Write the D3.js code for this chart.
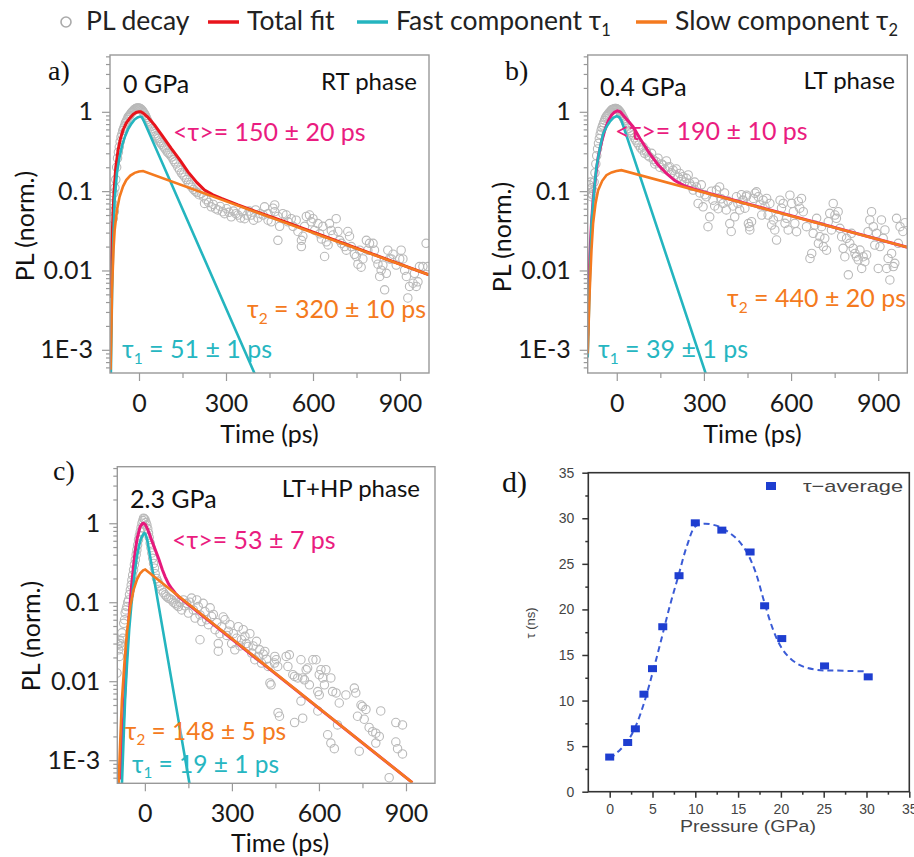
<!DOCTYPE html>
<html><head><meta charset="utf-8">
<script src="https://cdn.jsdelivr.net/npm/d3@7"></script>
<style>
body{margin:0;background:#fff;}
svg{display:block;}
</style></head><body>
<svg id="chart" width="914" height="857"></svg>
<script>
// ---------------- DATA ----------------
const legendLabels = ["PL decay", "Total fit", "Fast component τ", "Slow component τ"];
const legendSubs = ["", "", "1", "2"];
const timeTicks = [0, 300, 600, 900];
const timeMinorTicks = [150, 450, 750];
const plTicks = [1, 0.1, 0.01, 0.001];
const plTickLabels = ["1", "0.1", "0.01", "1E-3"];

// Panel a (0 GPa, RT phase)
const aDecay = [[-95,0.085],[-93,0.06],[-91,0.07],[-89,0.045],[-87,0.095],[-85,0.055],[-83,0.11],[-80,0.14],[-77,0.2],[-74,0.26],[-71,0.31],[-68,0.36],[-65,0.42],[-62,0.48],[-59,0.52],[-56,0.58],[-53,0.62],[-50,0.66],[-47,0.72],[-44,0.76],[-41,0.8],[-38,0.85],[-35,0.88],[-32,0.9],[-29,0.94],[-26,0.98],[-23,1.0],[-20,1.03],[-17,1.06],[-14,1.08],[-11,1.1],[-8,1.11],[-5,1.12],[-2,1.12],[1,1.11],[4,1.1],[7,1.08],[10,1.05],[13,1.02],[16,0.98],[19,0.94],[22,0.9],[25,0.85],[28,0.8],[31,0.76],[34,0.72],[38,0.68],[42,0.65],[46,0.61],[50,0.57],[54,0.53],[58,0.5],[62,0.48],[66,0.46],[70,0.43],[74,0.41],[78,0.39],[83,0.37],[88,0.35],[93,0.33],[98,0.31],[103,0.3],[108,0.285],[113,0.27],[118,0.25],[123,0.234],[128,0.22],[134,0.2],[140,0.185],[146,0.17],[152,0.16],[158,0.15],[164,0.14],[170,0.128],[176,0.12],[182,0.112],[188,0.105],[194,0.1],[200,0.096],[207,0.09],[215,0.094],[222,0.085],[226,0.07],[232,0.078],[240,0.072],[249,0.0635],[256,0.068],[264,0.06],[272,0.058],[280,0.064],[288,0.055],[295,0.052],[302,0.06],[310,0.054],[318,0.0475],[326,0.056],[334,0.052],[341,0.05],[350,0.046],[357,0.055],[364,0.045],[372,0.05],[380,0.056],[387,0.05],[395,0.043],[402,0.058],[410,0.046],[418,0.052],[433,0.0635],[445,0.052],[456,0.041],[468,0.067],
[428,0.050],[445,0.043],[462,0.061],[468,0.055],[479,0.048],[485,0.036],[479,0.024],[496,0.052],[508,0.050],[514,0.041],[525,0.045],[531,0.036],[542,0.043],[548,0.031],[560,0.024],[560,0.020],[565,0.027],[571,0.036],[577,0.048],[588,0.050],[594,0.041],[600,0.045],[606,0.032],[617,0.039],[623,0.029],[629,0.025],[634,0.036],[640,0.015],[646,0.023],[652,0.021],[657,0.039],[663,0.032],[669,0.028],[680,0.045],[686,0.031],[692,0.024],[698,0.022],[709,0.020],[715,0.018],[720,0.031],[726,0.027],[732,0.020],[743,0.016],[749,0.015],[755,0.012],[761,0.018],[766,0.011],[772,0.014],[784,0.024],[789,0.018],[795,0.022],[807,0.022],[812,0.018],[818,0.014],[824,0.012],[830,0.0084],[835,0.0101],[841,0.0117],[847,0.0057],[853,0.0092],[858,0.018],[864,0.014],[870,0.014],[876,0.016],[887,0.0117],[899,0.014],[904,0.018],[910,0.014],[916,0.0101],[922,0.0084],[927,0.0045],[933,0.0063],[945,0.0069],[950,0.0092],[956,0.0063],[962,0.0072],[967,0.0112],[979,0.0112],[990,0.022],[996,0.0112]];
const aTotalFit = [[-100,0.0045],[-97,0.0075],[-93,0.024],[-89,0.06],[-86,0.10],[-80,0.2],[-72,0.33],[-64,0.46],[-55,0.59],[-44,0.72],[-32,0.83],[-20,0.93],[-10,0.98],[0,1.0],[6,1.0],[15,0.96],[30,0.86],[54,0.68],[80,0.5],[111,0.345],[140,0.25],[169,0.175],[200,0.128],[226,0.103],[255,0.09],[284,0.081],[341,0.067],[399,0.056],[500,0.0415],[1000,0.0088]];
const aFast = [[-97,0.0005],[-93,0.005],[-88,0.03],[-84,0.077],[-76,0.17],[-67,0.27],[-58,0.38],[-49,0.48],[-38,0.6],[-26,0.71],[-15,0.8],[-5,0.85],[3,0.87],[10,0.85],[18,0.75],[401,0.00048]];
const aSlow = [[-98,0.00056],[-95,0.002],[-93,0.0057],[-88,0.018],[-84,0.032],[-76,0.058],[-67,0.085],[-55,0.115],[-44,0.138],[-30,0.157],[-15,0.17],[0,0.177],[14,0.179],[1000,0.0088]];

// Panel b (0.4 GPa, LT phase)
const bDecay = [[-95,0.12],[-92,0.095],[-90,0.13],[-88,0.085],[-86,0.11],[-84,0.09],[-81,0.1],[-78,0.13],[-75,0.17],[-72,0.22],[-69,0.28],[-66,0.34],[-63,0.4],[-60,0.46],[-57,0.52],[-54,0.58],[-51,0.63],[-48,0.68],[-45,0.73],[-42,0.78],[-39,0.83],[-36,0.87],[-33,0.9],[-30,0.93],[-27,0.96],[-24,0.99],[-21,1.02],[-18,1.05],[-15,1.07],[-12,1.08],[-9,1.09],[-6,1.1],[-3,1.1],[0,1.09],[3,1.07],[6,1.05],[9,1.02],[12,0.99],[15,0.95],[18,0.9],[21,0.86],[24,0.82],[27,0.78],[30,0.74],[34,0.7],[38,0.66],[42,0.62],[46,0.58],[50,0.55],[55,0.51],[60,0.47],[65,0.44],[70,0.41],[76,0.38],[82,0.35],[88,0.33],[91,0.36],[96,0.3],[102,0.32],[108,0.28],[113,0.27],[120,0.3],[126,0.25],[131,0.22],[136,0.234],[142,0.26],[148,0.2],[154,0.22],[159,0.213],[165,0.19],[171,0.24],[177,0.2],[182,0.203],[188,0.17],[194,0.184],[200,0.16],[205,0.19],[211,0.15],[217,0.167],[222,0.14],[228,0.152],[234,0.13],[240,0.145],[246,0.16],[251,0.125],[257,0.115],[263,0.103],[268,0.13],[274,0.113],[280,0.07],[286,0.095],[291,0.12],[297,0.0635],[303,0.09],[308,0.085],[314,0.0356],[320,0.0475],[326,0.1],[331,0.077],[337,0.065],[343,0.103],[349,0.06],[354,0.113],[360,0.08],[366,0.07],[371,0.095],[377,0.058],[383,0.075],[389,0.039],[394,0.031],[400,0.065],[406,0.0475],[412,0.085],[417,0.07],[423,0.058],[429,0.09],[434,0.077],[446,0.085],[457,0.0356],
[435,0.077],[441,0.061],[447,0.089],[453,0.039],[458,0.0324],[464,0.0412],[470,0.081],[476,0.094],[481,0.098],[487,0.085],[493,0.067],[499,0.050],[504,0.077],[510,0.064],[516,0.081],[521,0.050],[527,0.070],[533,0.0374],[539,0.0433],[544,0.0324],[550,0.0242],[556,0.0476],[562,0.077],[567,0.061],[573,0.070],[579,0.0393],[585,0.0454],[590,0.0324],[596,0.089],[602,0.070],[608,0.055],[613,0.0393],[619,0.0308],[625,0.074],[630,0.061],[636,0.081],[642,0.055],[653,0.0356],[665,0.0142],[671,0.0164],[676,0.0294],[682,0.0374],[688,0.0454],[694,0.022],[699,0.0267],[705,0.0356],[711,0.020],[716,0.0254],[722,0.018],[728,0.0412],[733,0.0525],[739,0.0324],[745,0.070],[751,0.050],[756,0.0454],[762,0.055],[768,0.0340],[774,0.0267],[779,0.019],[785,0.0149],[791,0.0254],[797,0.0088],[802,0.022],[808,0.0294],[814,0.019],[820,0.0164],[825,0.0149],[831,0.0136],[837,0.0181],[843,0.0106],[848,0.0149],[854,0.0129],[860,0.0157],[865,0.0308],[871,0.0433],[877,0.055],[883,0.0356],[888,0.0209],[894,0.0294],[900,0.0106],[906,0.020],[911,0.0433],[917,0.0254],[923,0.0324],[929,0.0106],[934,0.0142],[940,0.0076],[946,0.0164],[952,0.0112],[957,0.0123],[963,0.0454],[969,0.022],[975,0.0356],[985,0.031],[992,0.04]];
const bTotalFit = [[-100,0.0015],[-98.7,0.0024],[-93,0.015],[-87,0.04],[-81.5,0.077],[-72,0.16],[-64,0.27],[-52,0.42],[-41,0.59],[-30,0.76],[-18,0.91],[-8,0.99],[2,1.03],[12,1.0],[25,0.88],[40,0.76],[56,0.65],[80,0.46],[113,0.30],[140,0.22],[171,0.167],[200,0.136],[228,0.119],[260,0.108],[300,0.0975],[1000,0.0196]];
const bFast = [[-100,0.0008],[-95,0.004],[-87,0.039],[-78,0.1],[-70,0.2],[-58,0.35],[-47,0.53],[-35,0.65],[-24,0.75],[-12,0.84],[-1,0.88],[8,0.86],[16,0.78],[308,0.00048]];
const bSlow = [[-100,0.0009],[-97,0.002],[-93,0.0057],[-87,0.018],[-81.5,0.039],[-73,0.07],[-64,0.103],[-50,0.135],[-35.6,0.159],[-18,0.172],[-1,0.179],[16,0.184],[1000,0.0196]];

// Panel c (2.3 GPa, LT+HP phase)
const cDecay = [[-96,0.0127],[-93,0.029],[-90,0.025],[-88,0.0206],[-86,0.033],[-85,0.03],[-82,0.028],[-79,0.041],[-76,0.035],[-73,0.054],[-70,0.06],[-68,0.073],[-65,0.08],[-62,0.088],[-59,0.1],[-56,0.107],[-53,0.125],[-50,0.143],[-47,0.165],[-44.7,0.19],[-42,0.22],[-39,0.257],[-36,0.3],[-33,0.343],[-30,0.4],[-27.5,0.46],[-25,0.53],[-21.8,0.62],[-19,0.7],[-16,0.78],[-13,0.88],[-10,1.0],[-7,1.08],[-4.6,1.16],[-2,1.14],[1,1.1],[4,1.02],[7,0.95],[10,0.85],[12.6,0.75],[15,0.66],[18.3,0.56],[21,0.49],[24,0.42],[27,0.36],[30,0.31],[33,0.27],[35.5,0.23],[40,0.2],[44,0.185],[47,0.174],[52,0.16],[58,0.143],[64,0.132],[70,0.124],[75,0.118],[81,0.113],[87,0.11],[93,0.107],[98,0.1],[104,0.097],[110,0.092],[116,0.088],[121,0.1],[127,0.08],[133,0.107],[138,0.09],[144,0.097],[150,0.073],[155,0.1],[161,0.113],[167,0.08],[173,0.063],[179,0.107],[184,0.088],[190,0.069],[190,0.0335],[196,0.057],[201,0.097],[207,0.076],[213,0.06],[219,0.052],[225,0.085],[230,0.066],[236,0.07],[242,0.045],[248,0.055],[253,0.03],[253,0.024],[259,0.04],[265,0.049],[270,0.065],[276,0.06],[282,0.038],[287.5,0.043],[293,0.052],[299,0.03],[305,0.04],[310,0.025],[316,0.035],[322,0.049],[328,0.028],[333,0.0335],[339,0.045],[345,0.037],[350,0.03],[356,0.0276],[362,0.04],[368,0.0227],[373,0.028],[379,0.0187],[385,0.032],[390.6,0.0206],[396,0.025],[402,0.017],[408,0.022],[413.5,0.0238],[419,0.019],[425,0.0154],[431,0.0095],[448,0.0206],[459,0.004],
[435,0.009],[447,0.017],[453,0.0187],[458,0.0154],[487,0.0206],[493,0.0154],[498,0.0216],[510,0.0121],[516,0.0115],[527,0.011],[538,0.0187],[544,0.011],[550,0.0104],[561,0.0147],[556,0.014],[567,0.009],[579,0.0187],[590,0.0187],[596,0.0074],[601,0.0121],[607,0.014],[613,0.011],[619,0.009],[624,0.014],[641,0.011],[647,0.0074],[596,0.0042],[601,0.0067],[544,0.0034],[538,0.0056],[516,0.003],[464,0.0036],[659,0.0071],[664,0.0028],[630,0.0021],[641,0.00165],[653,0.0014],[670,0.0053],[693,0.0067],[722,0.0082],[727,0.0071],[745,0.005],[750,0.0048],[762,0.0044],[733,0.0036],[756,0.0033],[773,0.0026],[785,0.0023],[796,0.0022],[808,0.002],[796,0.00165],[813,0.0042],[865,0.003],[888,0.0028],[865,0.0017],[871,0.0014],[888,0.0012],[739,0.0013],[842,0.0006]];
const cTotalFit = [[-85,0.00057],[-79,0.0015],[-73,0.0036],[-67,0.01],[-62,0.025],[-54,0.07],[-45,0.174],[-36,0.37],[-27.5,0.62],[-16,0.91],[-8,0.99],[-4.6,1.0],[2,0.96],[10,0.83],[24,0.6],[35,0.47],[47,0.36],[60,0.26],[70,0.21],[82,0.17],[93,0.148],[105,0.13],[116,0.118],[922,0.00052]];
const cFast = [[-79,0.0005],[-73,0.002],[-68,0.006],[-62,0.0154],[-54,0.045],[-45,0.107],[-36,0.22],[-27.5,0.38],[-20,0.52],[-12.6,0.65],[-6,0.72],[-2.3,0.75],[2,0.73],[8,0.62],[154,0.0005]];
const cSlow = [[-90.5,0.00049],[-85,0.0017],[-79,0.0058],[-70,0.018],[-62,0.041],[-50,0.09],[-39,0.143],[-27,0.195],[-16,0.233],[-6,0.254],[1.2,0.26],[922,0.00052]];

// Panel d (average lifetime vs pressure)
const pressureGPa = [0, 2.1, 3, 4, 5, 6.2, 8.1, 10, 13.1, 16.4, 18.1, 20.1, 25.1, 30.2];
const tauAverageNs = [3.8, 5.4, 6.9, 10.7, 13.5, 18.1, 23.7, 29.5, 28.7, 26.3, 20.4, 16.8, 13.8, 12.6];
const guidePressure = [0, 1, 2, 3, 4, 5, 6, 7, 8, 9, 10, 11, 12, 13, 14, 15, 16, 17, 18, 19, 20, 21, 22, 23, 24, 25, 26, 28, 30];
const guideTau = [3.6, 4.4, 5.4, 7.1, 9.7, 13, 16.6, 20.3, 23.6, 26.9, 29.1, 29.4, 29.3, 29.0, 28.4, 27.6, 26.3, 24.2, 21, 18, 15.9, 14.7, 14, 13.6, 13.4, 13.3, 13.3, 13.25, 13.2];
const dTicks = [0, 5, 10, 15, 20, 25, 30, 35];
const dMinorTicks = [2.5, 7.5, 12.5, 17.5, 22.5, 27.5, 32.5];

// ---------------- DRAWING ----------------
const svg = d3.select("#chart");
const SANS = "Lato, 'Noto Sans', 'DejaVu Sans', sans-serif";
const COL = {red:"#e8141c", pink:"#e6197c", cyan:"#24b5bf", orange:"#f47a1f",
             pinkText:"#ea1c80", orangeText:"#f47a20", cyanText:"#26b6c1"};

function txt(g, x, y, s, opt={}) {
  const size = opt.size || 25;
  const t = g.append("text").attr("x", x).attr("y", y)
    .attr("font-family", opt.family || SANS)
    .attr("font-size", size)
    .attr("fill", opt.fill || "#111")
    .attr("text-anchor", opt.anchor || "start");
  if (opt.sub !== undefined) {
    t.append("tspan").text(opt.pre);
    t.append("tspan").attr("font-size", size * 0.62).attr("dy", size * 0.22).text(opt.sub);
    if (opt.post) t.append("tspan").attr("dy", -size * 0.22).text(opt.post);
  } else t.text(s);
  if (opt.len) t.attr("textLength", opt.len).attr("lengthAdjust", "spacingAndGlyphs");
  return t;
}

function decayPanel(o) {
  const g = svg.append("g");
  const x = d3.scaleLinear().domain(o.xDomain).range([o.left, o.right]);
  const y = d3.scaleLog().domain([5.1e-4, 5.2]).range([o.bottom, o.top]);
  const clipId = "clip" + o.id;
  svg.append("clipPath").attr("id", clipId).append("rect")
    .attr("x", o.left).attr("y", o.top).attr("width", o.right - o.left).attr("height", o.bottom - o.top);
  const plot = g.append("g").attr("clip-path", `url(#${clipId})`);
  plot.selectAll("circle").data(o.decay).join("circle")
    .attr("cx", d => x(d[0])).attr("cy", d => y(d[1])).attr("r", 4.2)
    .attr("fill", "none").attr("stroke", "#b9b9b9").attr("stroke-width", 1.1);
  const line = d3.line().x(d => x(d[0])).y(d => y(d[1]));
  plot.append("path").attr("d", line(o.total)).attr("fill", "none").attr("stroke", o.totalColor).attr("stroke-width", 3);
  plot.append("path").attr("d", line(o.fast)).attr("fill", "none").attr("stroke", COL.cyan).attr("stroke-width", 2.6);
  plot.append("path").attr("d", line(o.slow)).attr("fill", "none").attr("stroke", COL.orange).attr("stroke-width", 2.6);

  // frame
  g.append("rect").attr("x", o.left).attr("y", o.top).attr("width", o.right - o.left).attr("height", o.bottom - o.top)
    .attr("fill", "none").attr("stroke", "#999").attr("stroke-width", 1.4);

  const minor = y.ticks(40).filter(v => !plTicks.some(p => Math.abs(p - v) / p < 1e-6));
  const yMinor = g.append("g").attr("transform", `translate(${o.left},0)`)
    .call(d3.axisLeft(y).tickValues(minor).tickSize(4).tickFormat(""));
  const yMajor = g.append("g").attr("transform", `translate(${o.left},0)`)
    .call(d3.axisLeft(y).tickValues(plTicks).tickSize(8).tickPadding(9).tickFormat((d, i) => plTickLabels[i]));
  const xMinor = g.append("g").attr("transform", `translate(0,${o.bottom})`)
    .call(d3.axisBottom(x).tickValues(timeMinorTicks).tickSize(5).tickFormat(""));
  const xMajor = g.append("g").attr("transform", `translate(0,${o.bottom})`)
    .call(d3.axisBottom(x).tickValues(timeTicks).tickSize(8).tickPadding(13).tickFormat(d3.format("d")));
  [yMinor, yMajor, xMinor, xMajor].forEach(a => {
    a.select(".domain").remove();
    a.selectAll("line").attr("stroke", "#999").attr("stroke-width", 1.2);
    a.selectAll("text").attr("font-family", SANS).attr("font-size", 25).attr("fill", "#1a1a1a");
  });

  txt(g, (o.left + o.right) / 2 + o.xtDx, o.xtY, "Time (ps)", {anchor: "middle"});
  txt(g, 0, 0, "PL (norm.)", {anchor: "middle"})
    .attr("transform", `translate(${o.ytX},${o.ytY}) rotate(-90)`);

  txt(g, o.letter[1], o.letter[2], o.letter[0], {family: "'Liberation Serif','Times New Roman',serif", size: 28});
  txt(g, o.gpa[1], o.gpa[2], o.gpa[0], {size: 25});
  txt(g, o.phase[1], o.phase[2], o.phase[0], {size: 24, anchor: "end"});
  txt(g, o.avg[1], o.avg[2], o.avg[0], {size: 25, fill: COL.pinkText});
  txt(g, o.t2[1], o.t2[2], null, {size: o.t2[3] || 25, fill: COL.orangeText, pre: "τ", sub: "2", post: o.t2[0]});
  txt(g, o.t1[1], o.t1[2], null, {size: o.t1[3] || 25, fill: COL.cyanText, pre: "τ", sub: "1", post: o.t1[0]});
}

decayPanel({id: "a", left: 110, right: 429, top: 55, bottom: 373, xDomain: [-100, 1000],
  decay: aDecay, total: aTotalFit, fast: aFast, slow: aSlow, totalColor: COL.red,
  xtDx: 0, xtY: 443, ytX: 34, ytY: 226,
  letter: ["a)", 48, 80], gpa: ["0 GPa", 123, 93], phase: ["RT phase", 417, 90],
  avg: ["<τ>= 150 ± 20 ps", 173, 141], t2: [" = 320 ± 10 ps", 247, 318], t1: [" = 51 ± 1 ps", 122, 358]});

decayPanel({id: "b", left: 587.7, right: 907.3, top: 55, bottom: 373, xDomain: [-100, 1000],
  decay: bDecay, total: bTotalFit, fast: bFast, slow: bSlow, totalColor: COL.pink,
  xtDx: 5, xtY: 443, ytX: 511, ytY: 237,
  letter: ["b)", 505, 80], gpa: ["0.4 GPa", 600, 96], phase: ["LT phase", 895, 89],
  avg: ["<τ>= 190 ± 10 ps", 615, 140], t2: [" = 440 ± 20 ps", 727, 307], t1: [" = 39 ± 1 ps", 598, 358]});

decayPanel({id: "c", left: 117.3, right: 435, top: 466.7, bottom: 783.3, xDomain: [-95, 1000],
  decay: cDecay, total: cTotalFit, fast: cFast, slow: cSlow, totalColor: COL.pink,
  xtDx: 4, xtY: 852, ytX: 40, ytY: 636,
  letter: ["c)", 53, 480], gpa: ["2.3 GPa", 130, 508], phase: ["LT+HP phase", 420, 497],
  avg: ["<τ>= 53 ± 7 ps", 172, 549], t2: [" = 148 ± 5 ps", 125, 740, 24.5], t1: [" = 19 ± 1 ps", 132, 773, 24.5]});

// ---------- Legend ----------
(function legend() {
  const g = svg.append("g");
  const y0 = 22, base = 30, fs = 26.5;
  g.append("circle").attr("cx", 66).attr("cy", y0).attr("r", 5).attr("fill", "none").attr("stroke", "#aaa").attr("stroke-width", 1.6);
  txt(g, 86, base, legendLabels[0], {size: fs, fill: "#222"});
  const items = [[208, 247, COL.red], [357, 396, COL.cyan], [636, 675, COL.orange]];
  items.forEach((it, i) => {
    g.append("line").attr("x1", it[0]).attr("x2", it[0] + 31).attr("y1", y0).attr("y2", y0).attr("stroke", it[2]).attr("stroke-width", 3.5);
    if (legendSubs[i + 1]) txt(g, it[1], base, null, {size: fs, fill: "#222", pre: legendLabels[i + 1], sub: legendSubs[i + 1], post: ""});
    else txt(g, it[1], base, legendLabels[i + 1], {size: fs, fill: "#222"});
  });
})();

// ---------- Panel d ----------
(function panelD() {
  const g = svg.append("g");
  const L = 588.3, R = 909.3, T = 472.7, B = 791.7;
  const x = d3.scaleLinear().domain([-2.5, 35]).range([L, R]);
  const y = d3.scaleLinear().domain([0, 35]).range([B, T]);
  const ARIAL = "'Liberation Sans', Arial, sans-serif";
  txt(g, 502, 492, "d)", {family: "'Liberation Serif','Times New Roman',serif", size: 30});

  const line = d3.line().x((d, i) => x(guidePressure[i])).y(d => y(d)).curve(d3.curveCatmullRom.alpha(0.5));
  g.append("path").attr("d", line(guideTau)).attr("fill", "none").attr("stroke", "#3a5bd6")
    .attr("stroke-width", 2).attr("stroke-dasharray", "6,4");
  g.selectAll("rect.pt").data(pressureGPa).join("rect").attr("class", "pt")
    .attr("x", d => x(d) - 4.5).attr("y", (d, i) => y(tauAverageNs[i]) - 3.5)
    .attr("width", 9).attr("height", 7).attr("fill", "#1e3ed0");

  g.append("rect").attr("x", L).attr("y", T).attr("width", R - L).attr("height", B - T)
    .attr("fill", "none").attr("stroke", "#333").attr("stroke-width", 1.6);
  const axes = [
    g.append("g").attr("transform", `translate(${L},0)`).call(d3.axisLeft(y).tickValues(dMinorTicks).tickSize(3).tickFormat("")),
    g.append("g").attr("transform", `translate(${L},0)`).call(d3.axisLeft(y).tickValues(dTicks).tickSize(6).tickPadding(8).tickFormat(d3.format("d"))),
    g.append("g").attr("transform", `translate(0,${B})`).call(d3.axisBottom(x).tickValues(dMinorTicks).tickSize(3).tickFormat("")),
    g.append("g").attr("transform", `translate(0,${B})`).call(d3.axisBottom(x).tickValues(dTicks).tickSize(6).tickPadding(6).tickFormat(d3.format("d")))
  ];
  axes.forEach(a => {
    a.select(".domain").remove();
    a.selectAll("line").attr("stroke", "#333").attr("stroke-width", 1.5);
    a.selectAll("text").attr("font-family", ARIAL).attr("font-size", 14).attr("fill", "#444");
  });
  txt(g, 748, 832, "Pressure (GPa)", {family: ARIAL, size: 17, fill: "#444", anchor: "middle", len: 136});
  txt(g, 0, 0, "τ (ns)", {family: ARIAL, size: 13, fill: "#444", anchor: "middle"})
    .attr("transform", "translate(535,623) rotate(-90)");
  g.append("rect").attr("x", 766).attr("y", 482).attr("width", 10).attr("height", 8).attr("fill", "#1e3ed0");
  txt(g, 803, 492, "τ−average", {family: ARIAL, size: 17, fill: "#444", len: 100});
})();
</script>
</body></html>
